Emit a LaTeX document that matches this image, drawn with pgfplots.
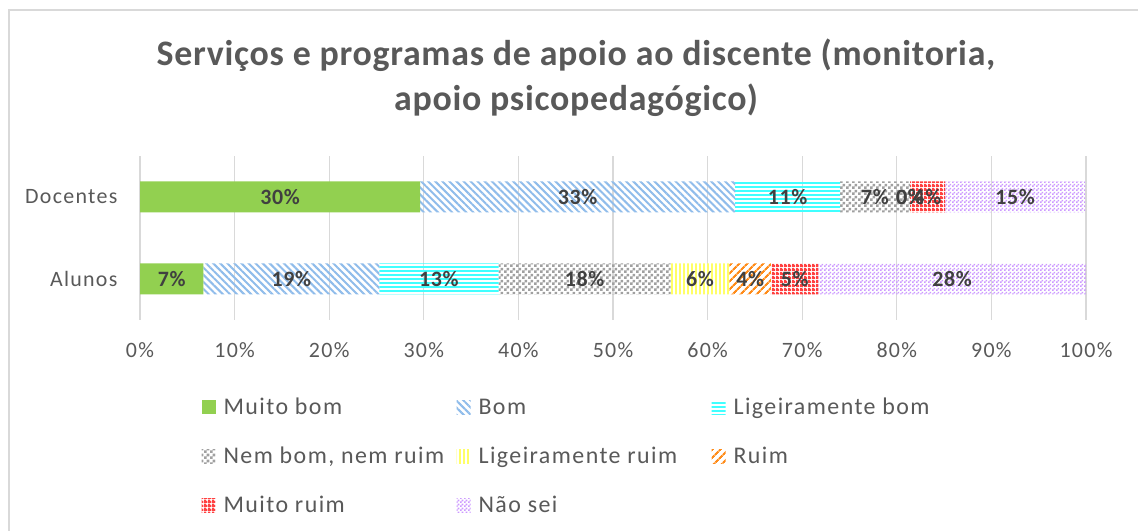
\documentclass[border=0pt]{standalone}
\usepackage{fontspec}
\setmainfont{Carlito}
\usepackage{pgfplots}
\usepackage{pgfplotstable}
\pgfplotsset{compat=1.18}
\usetikzlibrary{patterns,patterns.meta}

\definecolor{mbgreen}{HTML}{92D050}
\definecolor{bomblue}{HTML}{8FBCEB}
\definecolor{lbcyan}{HTML}{40FFFF}
\definecolor{nngray}{HTML}{A0A0A0}
\definecolor{lryellow}{HTML}{FFFF66}
\definecolor{rorange}{HTML}{FF8C1A}
\definecolor{mrred}{HTML}{FF4040}
\definecolor{nspurple}{HTML}{CC99FF}
\definecolor{gridgray}{HTML}{D9D9D9}
\definecolor{labelgray}{HTML}{595959}
\definecolor{darktext}{HTML}{404040}

\pgfdeclarepatternformonly{checkA}{\pgfpointorigin}{\pgfpoint{6bp}{6bp}}{\pgfpoint{6bp}{6bp}}{%
  \pgfpathrectangle{\pgfpointorigin}{\pgfpoint{3bp}{3bp}}%
  \pgfpathrectangle{\pgfpoint{3bp}{3bp}}{\pgfpoint{3bp}{3bp}}%
  \pgfusepath{fill}}
\pgfdeclarepatternformonly{checkB}{\pgfpointorigin}{\pgfpoint{4bp}{4bp}}{\pgfpoint{4bp}{4bp}}{%
  \pgfpathrectangle{\pgfpointorigin}{\pgfpoint{2bp}{2bp}}%
  \pgfpathrectangle{\pgfpoint{2bp}{2bp}}{\pgfpoint{2bp}{2bp}}%
  \pgfusepath{fill}}
\pgfdeclarepatternformonly{holes}{\pgfpointorigin}{\pgfpoint{4bp}{4bp}}{\pgfpoint{4bp}{4bp}}{%
  \pgfpathrectangle{\pgfpointorigin}{\pgfpoint{4bp}{2.6bp}}%
  \pgfpathrectangle{\pgfpoint{0bp}{2.6bp}}{\pgfpoint{2.6bp}{1.4bp}}%
  \pgfusepath{fill}}

\pgfplotstableread{
y mb b lb nn lr r mr ns
0 6.7 18.6 12.6 18.2 6.2 4.4 5.0 28.3
1 29.6 33.3 11.1 7.4 0.001 0.001 3.7 14.8
}\data

\newcommand{\tickfont}{\fontsize{22}{26}\selectfont\addfontfeatures{LetterSpace=6}}
\newcommand{\datafont}{\bfseries\fontsize{22}{26}\selectfont\addfontfeatures{LetterSpace=3}}
\newcommand{\legfont}{\fontsize{24}{28}\selectfont\addfontfeatures{LetterSpace=6}}

\begin{document}
\begin{tikzpicture}[x=1bp,y=1bp]
\path[use as bounding box] (0,0) rectangle (1138,531);
\fill[white] (0,0) rectangle (1138,531);
\draw[gridgray, line width=1.5bp] (9,-5) -- (9,521) -- (1145,521);
\node[font=\bfseries\fontsize{36}{45}\selectfont\addfontfeatures{LetterSpace=2}, text=labelgray, align=center] at (576,453)
  {Serviços e programas de apoio ao discente (monitoria,\\apoio psicopedagógico)};
\begin{axis}[
  at={(140bp,211bp)}, anchor=south west,
  scale only axis, width=946bp, height=164bp,
  xbar stacked, bar width=31bp,
  xmin=0, xmax=100, ymin=-0.5, ymax=1.5,
  ytick={0,1}, yticklabels={Alunos,Docentes},
  xtick={0,10,...,100},
  xticklabel={\pgfmathprintnumber{\tick}\%},
  /pgf/number format/assume math mode=true,
  xmajorgrids, ymajorgrids=false,
  grid style={draw=gridgray, line width=1.2bp},
  axis line style={draw=none},
  major tick style={draw=none},
  tick label style={font=\tickfont, text=labelgray},
  xticklabel style={yshift=-19bp},
  yticklabel style={xshift=-19bp},
  nodes near coords={\pgfmathprintnumber[fixed,precision=0]{\pgfplotspointmeta}\%},
  point meta=rawx,
  every node near coord/.append style={font=\datafont, text=darktext},
  legend columns=3,
  legend cell align=left,
  legend image code/.code={\fill[#1,draw=none] (0bp,-7bp) rectangle (14bp,7bp);},
  legend style={draw=none, fill=none, at={(rel axis cs:0.0617,-0.451)}, anchor=north west,
    font=\legfont, text=labelgray, row sep=27bp,
    nodes={inner sep=2bp},
    /tikz/every odd column/.append style={column sep=6bp}},
]
\addplot[fill=mbgreen, draw=none] table[x=mb,y=y]{\data};
\addplot[draw=none, pattern={Lines[angle=-45,distance=5bp,line width=2bp]}, pattern color=bomblue] table[x=b,y=y]{\data};
\addplot[draw=none, pattern={Lines[angle=0,distance=4bp,line width=1.6bp]}, pattern color=lbcyan] table[x=lb,y=y]{\data};
\addplot[draw=none, pattern=checkA, pattern color=nngray] table[x=nn,y=y]{\data};
\addplot[draw=none, pattern={Lines[angle=90,distance=4bp,line width=1.6bp]}, pattern color=lryellow] table[x=lr,y=y]{\data};
\addplot[draw=none, pattern={Lines[angle=45,distance=6bp,line width=2.4bp]}, pattern color=rorange] table[x=r,y=y]{\data};
\addplot[draw=none, pattern=holes, pattern color=mrred] table[x=mr,y=y]{\data};
\addplot[draw=none, pattern=checkB, pattern color=nspurple] table[x=ns,y=y]{\data};
\addlegendentry{\makebox[231bp][l]{Muito bom}}
\addlegendentry{\makebox[231bp][l]{Bom}}
\addlegendentry{Ligeiramente bom}
\addlegendentry{\makebox[231bp][l]{Nem bom, nem ruim}}
\addlegendentry{\makebox[231bp][l]{Ligeiramente ruim}}
\addlegendentry{Ruim}
\addlegendentry{\makebox[231bp][l]{Muito ruim}}
\addlegendentry{\makebox[231bp][l]{Não sei}}
\end{axis}
\end{tikzpicture}
\end{document}
